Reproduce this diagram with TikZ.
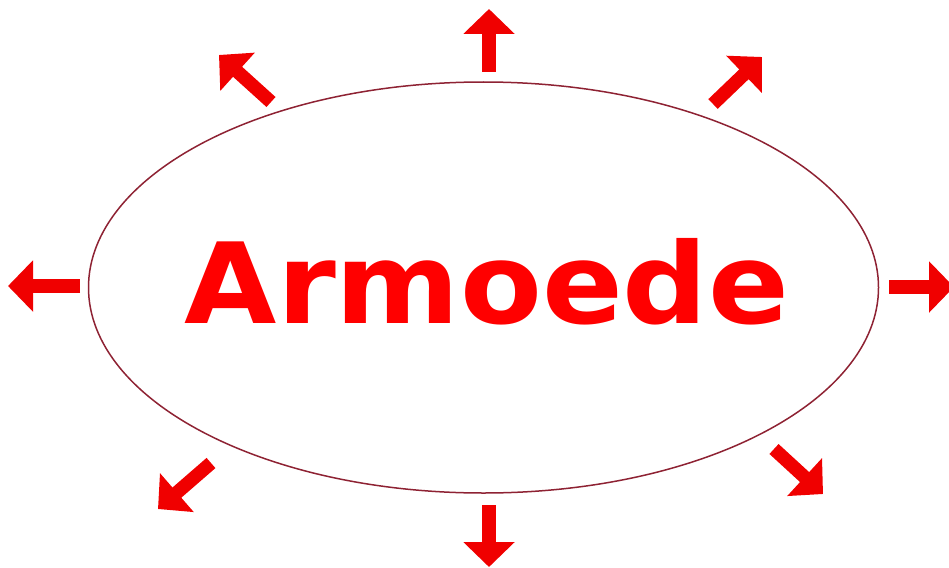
\documentclass[tikz,border=0pt]{standalone}
\usepackage{fontspec}
\setmainfont{DejaVu Sans}
\usetikzlibrary{arrows.meta,shapes.geometric}
\definecolor{ringred}{HTML}{8E2233}
\definecolor{arrred}{HTML}{F00000}
\begin{document}
\begin{tikzpicture}[x=1pt,y=-1pt,
  ringstyle/.style={draw=ringred, line width=1.5pt, ellipse, inner sep=0pt,
                    minimum width=790pt, minimum height=411pt},
  wordstyle/.style={text=red, font=\bfseries\fontsize{112}{112}\selectfont, inner sep=0pt, anchor=base},
  bigarrow/.style={draw=arrred, line width=13.5pt,
                   -{Triangle[length=25pt,width=50pt]}}
]
\useasboundingbox (0,0) rectangle (949,567);
\node[ringstyle] (ring) at (483.5,287.5) {};
\node[wordstyle] (word) at (487,323) {\scalebox{1.065}[1]{Armoede}};
% arrow tails and tips
\coordinate (tT) at (489,72);   \coordinate (hT) at (489,9);
\coordinate (tB) at (489,505);  \coordinate (hB) at (489,567);
\coordinate (tL) at (80,286);   \coordinate (hL) at (8,286);
\coordinate (tR) at (889,287);  \coordinate (hR) at (954,287);
\coordinate (tTL) at (271,102); \coordinate (hTL) at (219,55);
\coordinate (tTR) at (713,104); \coordinate (hTR) at (762,57);
\coordinate (tBL) at (211,463); \coordinate (hBL) at (158,509);
\coordinate (tBR) at (774,449); \coordinate (hBR) at (823,494);
\foreach \d in {T,B,L,R,TL,TR,BL,BR}
  \draw[bigarrow] (t\d) -- (h\d);
\end{tikzpicture}
\end{document}
